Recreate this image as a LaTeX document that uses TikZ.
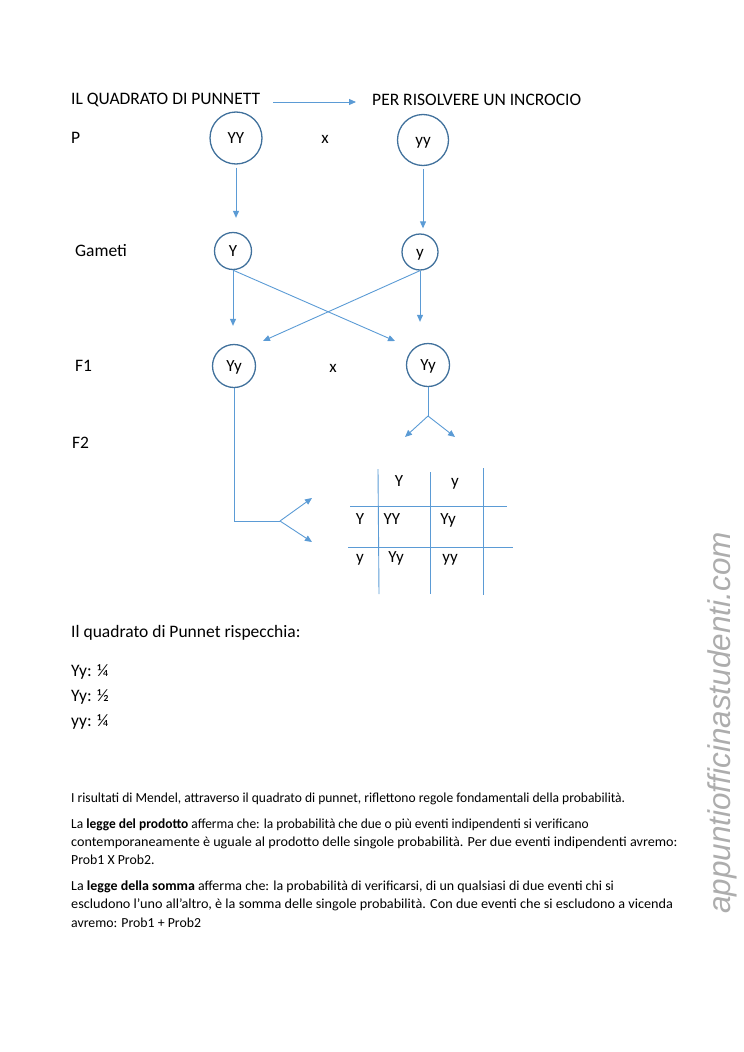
\documentclass[tikz,border=0pt]{standalone}
\usepackage{fontspec}
\usepackage{graphicx}
\setmainfont{Carlito}
\newfontfamily\wmfont{Liberation Sans}
\usetikzlibrary{arrows.meta}
\definecolor{arrowblue}{RGB}{91,155,213}
\definecolor{circblue}{RGB}{65,113,156}
\begin{document}
\begin{tikzpicture}[x=1pt,y=-1pt,
  lbl/.style={font=\fontsize{17.5}{20}\selectfont, inner sep=0pt, anchor=west},
  gene/.style={circle, draw=circblue, line width=1.3pt, inner sep=0pt, text height=12pt, text depth=1pt, font=\fontsize{17}{20}\selectfont},
  arr/.style={draw=arrowblue, line width=0.9pt, -{Triangle[length=7pt,width=6pt]}},
  ln/.style={draw=arrowblue, line width=0.9pt},
  cell/.style={font=\fontsize{17}{20}\selectfont, inner sep=0pt, text height=12pt, text depth=1pt},
  body/.style={font=\fontsize{13.8}{16}\selectfont, inner sep=0pt, anchor=west}]
\useasboundingbox (0,0) rectangle (744,1052);
% title
\node[lbl] (t1) at (71,100) {IL QUADRATO DI PUNNETT};
\node[lbl] (t2) at (372,100) {PER RISOLVERE UN INCROCIO};
\draw[arr, shorten <=13pt, shorten >=16pt] ([yshift=-2pt]t1.east) -- ([yshift=-2pt]t2.west);
% P
\node[lbl] (P) at (71,138) {P};
\node[gene, minimum size=52pt] (PYY) at (236,138) {YY};
\node[gene, minimum size=51pt] (Pyy) at (423,140) {yy};
\node[cell] (x1) at (325,138) {x};
% gametes
\node[lbl] (Gam) at (75,251) {Gameti};
\node[gene, minimum size=37pt] (GY) at (233,251) {Y};
\node[gene, minimum size=36pt] (Gy) at (420,252) {y};
\draw[arr, shorten <=3pt, shorten >=14pt] (PYY.south) -- (PYY.south |- GY.north);
\draw[arr, shorten <=3pt, shorten >=5pt] (Pyy.south) -- (Pyy.south |- Gy.north);
% F1
\node[lbl] (F1) at (75,366) {F1};
\node[gene, minimum size=43pt] (F1L) at (234,366) {Yy};
\node[gene, minimum size=43pt] (F1R) at (428,365) {Yy};
\node[cell] (x2) at (333,367) {x};
\coordinate (c1) at (395,341);
\coordinate (c2) at (263,341);
\draw[arr, shorten >=18pt] (GY.south) -- (GY.south |- F1L.north);
\draw[arr, shorten >=21pt] (Gy.south) -- (Gy.south |- F1R.north);
\draw[arr] (GY.south) -- (c1);
\draw[arr] (Gy.south) -- (c2);
% F2
\node[lbl] (F2) at (72,443) {F2};
\coordinate (b1) at (428,416);
\coordinate (b1l) at (405,437);
\coordinate (b1r) at (455,437);
\draw[ln] (F1R.south) -- (b1);
\draw[arr] (b1) -- (b1l);
\draw[arr] (b1) -- (b1r);
\coordinate (b2) at (280,521);
\coordinate (a2u) at (312,498);
\coordinate (a2d) at (312,542);
\draw[ln] (F1L.south) |- (b2);
\draw[arr] (b2) -- (a2u);
\draw[arr] (b2) -- (a2d);
% Punnett grid
\draw[ln] (378,469) -- (379,594);
\draw[ln] (430,472) -- (430,594);
\draw[ln] (483,468) -- (483,595);
\draw[ln] (350,506) -- (507,506);
\draw[ln] (348,547) -- (513,547);
\node[cell] (h1) at (399,481) {Y};
\node[cell] (h2) at (455,481) {y};
\node[cell] (r1) at (360,519) {Y};
\node[cell] (g11) at (392,519) {YY};
\node[cell] (g12) at (448,519) {Yy};
\node[cell] (r2) at (360,557) {y};
\node[cell] (g21) at (396,557) {Yy};
\node[cell] (g22) at (450,557) {yy};
% summary
\node[lbl] (s0) at (71,633) {Il quadrato di Punnet rispecchia:};
\node[lbl] (s1) at (71,672) {Yy: ¼};
\node[lbl] (s2) at (71,697) {Yy: ½};
\node[lbl] (s3) at (71,722) {yy: ¼};
% paragraph
\node[body] (p1) at (71,799) {\scalebox{0.98}[1]{I risultati di Mendel, attraverso il quadrato di punnet, riflettono regole fondamentali della probabilità.}};
\node[body] (p2) at (71,825) {\scalebox{0.972}[1]{La \textbf{legge del prodotto} afferma che: la probabilità che due o più eventi indipendenti si verificano}};
\node[body] (p3) at (71,843) {\scalebox{1.027}[1]{contemporaneamente è uguale al prodotto delle singole probabilità. Per due eventi indipendenti avremo:}};
\node[body] (p4) at (71,860) {Prob1 X Prob2.};
\node[body] (p5) at (71,887) {\scalebox{1.012}[1]{La \textbf{legge della somma} afferma che: la probabilità di verificarsi, di un qualsiasi di due eventi chi si}};
\node[body] (p6) at (71,905) {\scalebox{1.03}[1]{escludono l’uno all’altro, è la somma delle singole probabilità. Con due eventi che si escludono a vicenda}};
\node[body] (p7) at (71,923) {avremo: Prob1 + Prob2};
% watermark
\node[rotate=90, text=black!32, inner sep=0pt, font=\wmfont\itshape\fontsize{31.5}{33}\selectfont] (wm) at (722,723) {appuntiofficinastudenti.com};
\end{tikzpicture}
\end{document}
